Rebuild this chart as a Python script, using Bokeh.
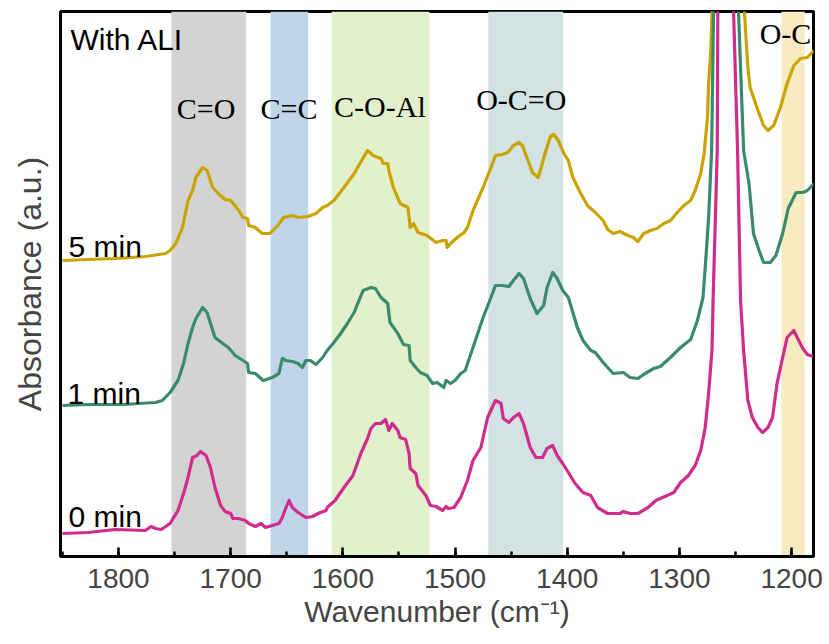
from bokeh.plotting import figure
from bokeh.models import Range1d, BoxAnnotation, SingleIntervalTicker, FixedTicker, ColumnDataSource
from bokeh.core.properties import value
from bokeh.embed import file_html
from bokeh.resources import INLINE

# ---------------- data ----------------
wn_5min = [1850, 1827, 1803, 1776, 1758, 1754, 1749, 1743, 1738, 1734, 1731, 1725, 1721, 1716, 1711, 1705,
           1700, 1694, 1689, 1685, 1684, 1678, 1672, 1665, 1658, 1653, 1645, 1640, 1631, 1624, 1618, 1614,
           1608, 1599, 1590, 1578, 1573, 1566, 1564, 1560, 1559, 1555, 1549, 1542, 1540, 1537, 1533, 1525,
           1517, 1511, 1508, 1507, 1504, 1498, 1492, 1489, 1484, 1475, 1468, 1464, 1458, 1453, 1448, 1443,
           1440, 1435, 1431, 1426, 1424, 1419, 1415, 1412, 1408, 1403, 1399, 1395, 1388, 1382, 1375, 1368,
           1364, 1359, 1353, 1346, 1341, 1337, 1332, 1326, 1320, 1314, 1308, 1302, 1296, 1290, 1286, 1281,
           1278, 1275, 1274, 1272, 1271, 1270, 1257, 1243, 1242, 1239, 1237, 1230, 1225, 1221, 1216, 1210,
           1204, 1198, 1192, 1186, 1180]
abs_5min = [2.96, 2.97, 2.98, 3.00, 3.03, 3.06, 3.13, 3.29, 3.56, 3.66, 3.79, 3.89, 3.86, 3.69, 3.63, 3.57,
            3.56, 3.48, 3.39, 3.38, 3.31, 3.29, 3.23, 3.23, 3.31, 3.39, 3.41, 3.39, 3.40, 3.43, 3.49, 3.51,
            3.56, 3.69, 3.83, 4.06, 4.01, 3.98, 3.93, 3.93, 3.86, 3.69, 3.53, 3.49, 3.29, 3.33, 3.24, 3.21,
            3.14, 3.16, 3.16, 3.09, 3.13, 3.19, 3.24, 3.29, 3.46, 3.69, 3.89, 4.01, 4.02, 4.04, 4.11, 4.14,
            4.11, 3.96, 3.84, 3.79, 3.86, 4.06, 4.20, 4.22, 4.16, 4.03, 3.96, 3.79, 3.63, 3.51, 3.44, 3.36,
            3.27, 3.23, 3.25, 3.21, 3.19, 3.15, 3.23, 3.26, 3.28, 3.33, 3.36, 3.44, 3.51, 3.56, 3.66, 3.83,
            4.03, 4.39, 4.73, 5.06, 5.43, 6.20, 9.00, 6.20, 5.43, 4.89, 4.69, 4.46, 4.31, 4.26, 4.31, 4.49,
            4.73, 4.91, 4.98, 4.99, 5.06]

wn_1min = [1850, 1827, 1796, 1767, 1761, 1754, 1747, 1742, 1738, 1734, 1731, 1725, 1721, 1716, 1714, 1707,
           1702, 1696, 1689, 1685, 1684, 1678, 1671, 1663, 1657, 1654, 1651, 1645, 1640, 1636, 1633, 1629,
           1624, 1618, 1614, 1608, 1602, 1596, 1590, 1582, 1575, 1571, 1566, 1560, 1558, 1551, 1546, 1541,
           1540, 1535, 1531, 1525, 1520, 1516, 1510, 1508, 1504, 1500, 1495, 1491, 1484, 1475, 1468, 1464,
           1458, 1452, 1448, 1443, 1439, 1433, 1427, 1421, 1418, 1413, 1409, 1404, 1399, 1391, 1386, 1379,
           1375, 1368, 1364, 1359, 1350, 1344, 1337, 1332, 1323, 1317, 1308, 1299, 1290, 1284, 1279, 1277,
           1274, 1271.3, 1269.6, 1268, 1257, 1246, 1247.3, 1242.8, 1238, 1234, 1229, 1225, 1219, 1214, 1208,
           1203, 1196, 1190, 1186, 1180]
abs_1min = [1.51, 1.52, 1.52, 1.54, 1.56, 1.64, 1.76, 1.93, 2.13, 2.29, 2.38, 2.49, 2.44, 2.26, 2.19, 2.13,
            2.09, 2.01, 1.96, 1.93, 1.84, 1.83, 1.76, 1.79, 1.83, 1.98, 1.96, 1.95, 1.93, 1.89, 1.96, 1.96,
            1.92, 1.99, 2.06, 2.14, 2.23, 2.33, 2.44, 2.66, 2.69, 2.68, 2.59, 2.53, 2.34, 2.23, 2.12, 2.11,
            1.96, 1.89, 1.84, 1.81, 1.73, 1.74, 1.69, 1.76, 1.73, 1.76, 1.83, 1.86, 2.09, 2.39, 2.59, 2.71,
            2.71, 2.70, 2.76, 2.83, 2.78, 2.58, 2.43, 2.51, 2.69, 2.84, 2.78, 2.66, 2.59, 2.29, 2.16, 2.06,
            2.04, 1.94, 1.89, 1.83, 1.84, 1.79, 1.78, 1.82, 1.88, 1.90, 1.99, 2.09, 2.17, 2.36, 2.59, 2.89,
            3.39, 4.06, 5.43, 6.50, 9.00, 6.50, 5.43, 4.06, 3.73, 3.23, 3.06, 2.94, 2.94, 3.01, 3.23,
            3.48, 3.64, 3.64, 3.66, 3.73]

wn_0min = [1850, 1827, 1803, 1776, 1771, 1767, 1762, 1754, 1747, 1742, 1738, 1734, 1730, 1727, 1722, 1718,
           1714, 1709, 1705, 1700, 1698, 1693, 1687, 1684, 1678, 1673, 1669, 1663, 1657, 1654, 1651, 1648,
           1645, 1640, 1633, 1627, 1622, 1620, 1615, 1614, 1607, 1599, 1591, 1584, 1578, 1575, 1571, 1566,
           1562, 1559, 1556, 1551, 1549, 1544, 1541, 1540, 1535, 1533, 1526, 1522, 1517, 1511, 1508, 1506,
           1501, 1495, 1489, 1484, 1477, 1471, 1464, 1459, 1457, 1452, 1448, 1443, 1439, 1433, 1428, 1422,
           1418, 1413, 1409, 1404, 1399, 1393, 1386, 1379, 1373, 1364, 1357, 1353, 1350, 1344, 1337, 1328,
           1321, 1311, 1305, 1299, 1292, 1286, 1281, 1277, 1274, 1271, 1270, 1266.3, 1265.8, 1257, 1251.7,
           1248.2, 1245.5, 1242.8, 1239, 1235, 1230, 1226, 1221, 1217, 1213, 1208, 1204, 1198, 1195, 1190,
           1186, 1181]
abs_0min = [0.23, 0.24, 0.27, 0.26, 0.30, 0.28, 0.27, 0.33, 0.46, 0.63, 0.79, 0.99, 1.01, 1.05, 1.01, 0.89,
            0.69, 0.51, 0.45, 0.43, 0.38, 0.38, 0.36, 0.33, 0.30, 0.33, 0.29, 0.31, 0.33, 0.39, 0.48, 0.56,
            0.49, 0.44, 0.39, 0.40, 0.43, 0.44, 0.46, 0.49, 0.56, 0.69, 0.81, 1.03, 1.18, 1.28, 1.33, 1.33,
            1.37, 1.26, 1.33, 1.26, 1.19, 1.17, 1.03, 0.88, 0.83, 0.71, 0.61, 0.51, 0.50, 0.46, 0.50, 0.48,
            0.49, 0.59, 0.76, 0.96, 1.09, 1.39, 1.56, 1.53, 1.38, 1.34, 1.39, 1.43, 1.33, 1.09, 0.99, 0.99,
            1.08, 1.11, 1.01, 0.93, 0.84, 0.73, 0.64, 0.61, 0.49, 0.43, 0.43, 0.43, 0.45, 0.43, 0.43, 0.49,
            0.56, 0.61, 0.64, 0.74, 0.81, 0.91, 1.06, 1.29, 1.63, 2.06, 2.56, 4.06, 5.43, 9.00, 5.43,
            4.06, 2.56, 2.06, 1.56, 1.39, 1.29, 1.24, 1.29, 1.39, 1.73, 1.99, 2.19, 2.26, 2.19, 2.08,
            2.02, 2.00]

series_names = ["5 min", "1 min", "0 min"]
series_colors = ["#CBA300", "#3A8A6E", "#D02B8D"]

band_labels = ["C=O", "C=C", "C-O-Al", "O-C=O", "O-C"]
band_left = [1752.8, 1664.5, 1610.1, 1470.4, 1209.0]
band_right = [1686.2, 1630.9, 1522.8, 1403.6, 1188.4]
band_colors = ["#D3D3D3", "#C0D5EA", "#E2F1CC", "#D3E3E3", "#F8EBC2"]
band_label_x = [1722, 1648, 1567, 1441, 1228.5]
band_label_y = [4.48, 4.48, 4.50, 4.57, 5.23]
band_label_align = ["center", "center", "center", "center", "left"]

series_label_x = [1844.6, 1845.5, 1844.6]
series_label_y = [3.10, 1.63, 0.40]

title_text = "With ALI"

# ---------------- figure ----------------
p = figure(width=829, height=644, output_backend="svg", toolbar_location=None,
           x_range=Range1d(1851.7, 1180.5), y_range=Range1d(0, 5.45),
           min_border_left=60, min_border_right=16, min_border_top=11, min_border_bottom=88)
p.background_fill_color = "white"
p.border_fill_color = "white"
p.grid.visible = False
p.outline_line_color = "black"
p.outline_line_width = 3

for l, r, c in zip(band_left, band_right, band_colors):
    p.add_layout(BoxAnnotation(left=l, right=r, fill_color=c, fill_alpha=1.0,
                               line_color=None, level="underlay"))

for wn, ab, c in zip([wn_5min, wn_1min, wn_0min], [abs_5min, abs_1min, abs_0min], series_colors):
    p.line(wn, ab, line_color=c, line_width=3.2, line_join="round")

band_src = ColumnDataSource(dict(x=band_label_x, y=band_label_y, t=band_labels, a=band_label_align))
p.text(x="x", y="y", text="t", source=band_src, text_align="a", text_baseline="alphabetic",
       text_font=value("Liberation Serif"), text_font_size="30px", text_color="black")

ser_src = ColumnDataSource(dict(x=series_label_x, y=series_label_y, t=series_names))
p.text(x="x", y="y", text="t", source=ser_src, text_align="left", text_baseline="alphabetic",
       text_font=value("Liberation Sans"), text_font_size="30px", text_color="black")

p.text(x=[1842.8], y=[5.17], text=[title_text], text_align="left", text_baseline="alphabetic",
       text_font=value("Liberation Sans"), text_font_size="30px", text_color="black")

# x axis
xa = p.xaxis[0]
xa.ticker = SingleIntervalTicker(interval=100, num_minor_ticks=2)
xa.axis_label = "Wavenumber (cm\u207b\u00b9)"
xa.axis_label_text_font = "Liberation Sans"
xa.axis_label_text_font_style = "normal"
xa.axis_label_text_font_size = "30px"
xa.axis_label_standoff = 4
xa.major_label_text_font = "Liberation Sans"
xa.major_label_text_font_size = "28px"
xa.major_label_standoff = 12
xa.axis_line_width = 3
xa.major_tick_in = 9
xa.major_tick_out = 0
xa.minor_tick_in = 5
xa.minor_tick_out = 0
xa.major_tick_line_width = 2.5
xa.minor_tick_line_width = 2.5

ya = p.yaxis[0]
ya.ticker = FixedTicker(ticks=[])
ya.axis_label = "Absorbance (a.u.)"
ya.axis_label_text_font = "Liberation Sans"
ya.axis_label_text_font_style = "normal"
ya.axis_label_text_font_size = "32px"
ya.axis_label_standoff = 13
ya.axis_line_width = 3
ya.major_tick_line_color = None
ya.minor_tick_line_color = None

open("out.html", "w").write(file_html(p, INLINE))
